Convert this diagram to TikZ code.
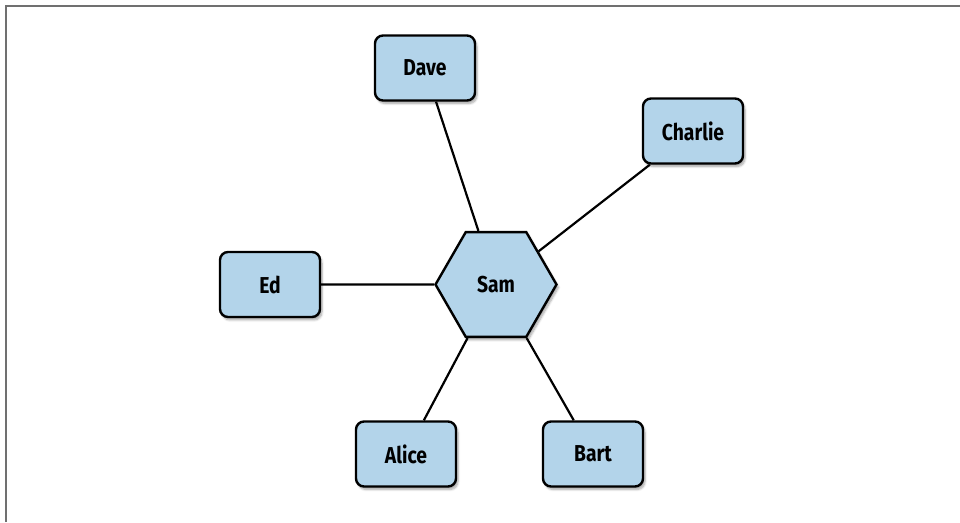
\documentclass[tikz,border=0pt]{standalone}
\usepackage{fontspec}
\setmainfont{Fira Sans}[FakeStretch=0.84]
\usetikzlibrary{shapes.geometric,shadows.blur,backgrounds}
\definecolor{nodefill}{RGB}{179,212,234}
\definecolor{framegray}{RGB}{112,112,112}
\tikzset{
  x=1pt, y=1pt,
  labelfont/.style={font=\fontsize{23}{27}\selectfont\bfseries},
  soft shadow/.style={blur shadow={shadow xshift=2pt, shadow yshift=-3pt,
    shadow blur steps=6, shadow opacity=35}},
  person/.style={draw=black, line width=2.4pt, fill=nodefill, rounded corners=8pt,
    minimum width=100pt, minimum height=65pt, inner sep=0pt, labelfont, soft shadow},
  hub/.style={regular polygon, regular polygon sides=6, draw=black, line width=2.4pt,
    fill=nodefill, minimum size=121pt, inner sep=0pt, labelfont, soft shadow},
  link/.style={draw=black, line width=2.2pt}
}
\begin{document}
\begin{tikzpicture}
\useasboundingbox (0,0) rectangle (960,522);
% frame along the top and left edges
\draw[framegray, line width=2pt] (5.5,0) -- (5.5,516) -- (960,516);

\node[hub] (sam) at (496,237.5) {Sam};
\node[person] (dave) at (425,454) {Dave};
\node[person] (charlie) at (693,391) {Charlie};
\node[person] (ed) at (270,237.5) {Ed};
\node[person] (alice) at (406,68) {Alice};
\node[person] (bart) at (593,68) {Bart};

\begin{scope}[on background layer]
  \draw[link] (sam) -- (dave);
  \draw[link] (sam) -- (charlie);
  \draw[link] (sam) -- (ed);
  \draw[link] (sam) -- (alice);
  \draw[link] (sam) -- (bart);
\end{scope}
\end{tikzpicture}
\end{document}
